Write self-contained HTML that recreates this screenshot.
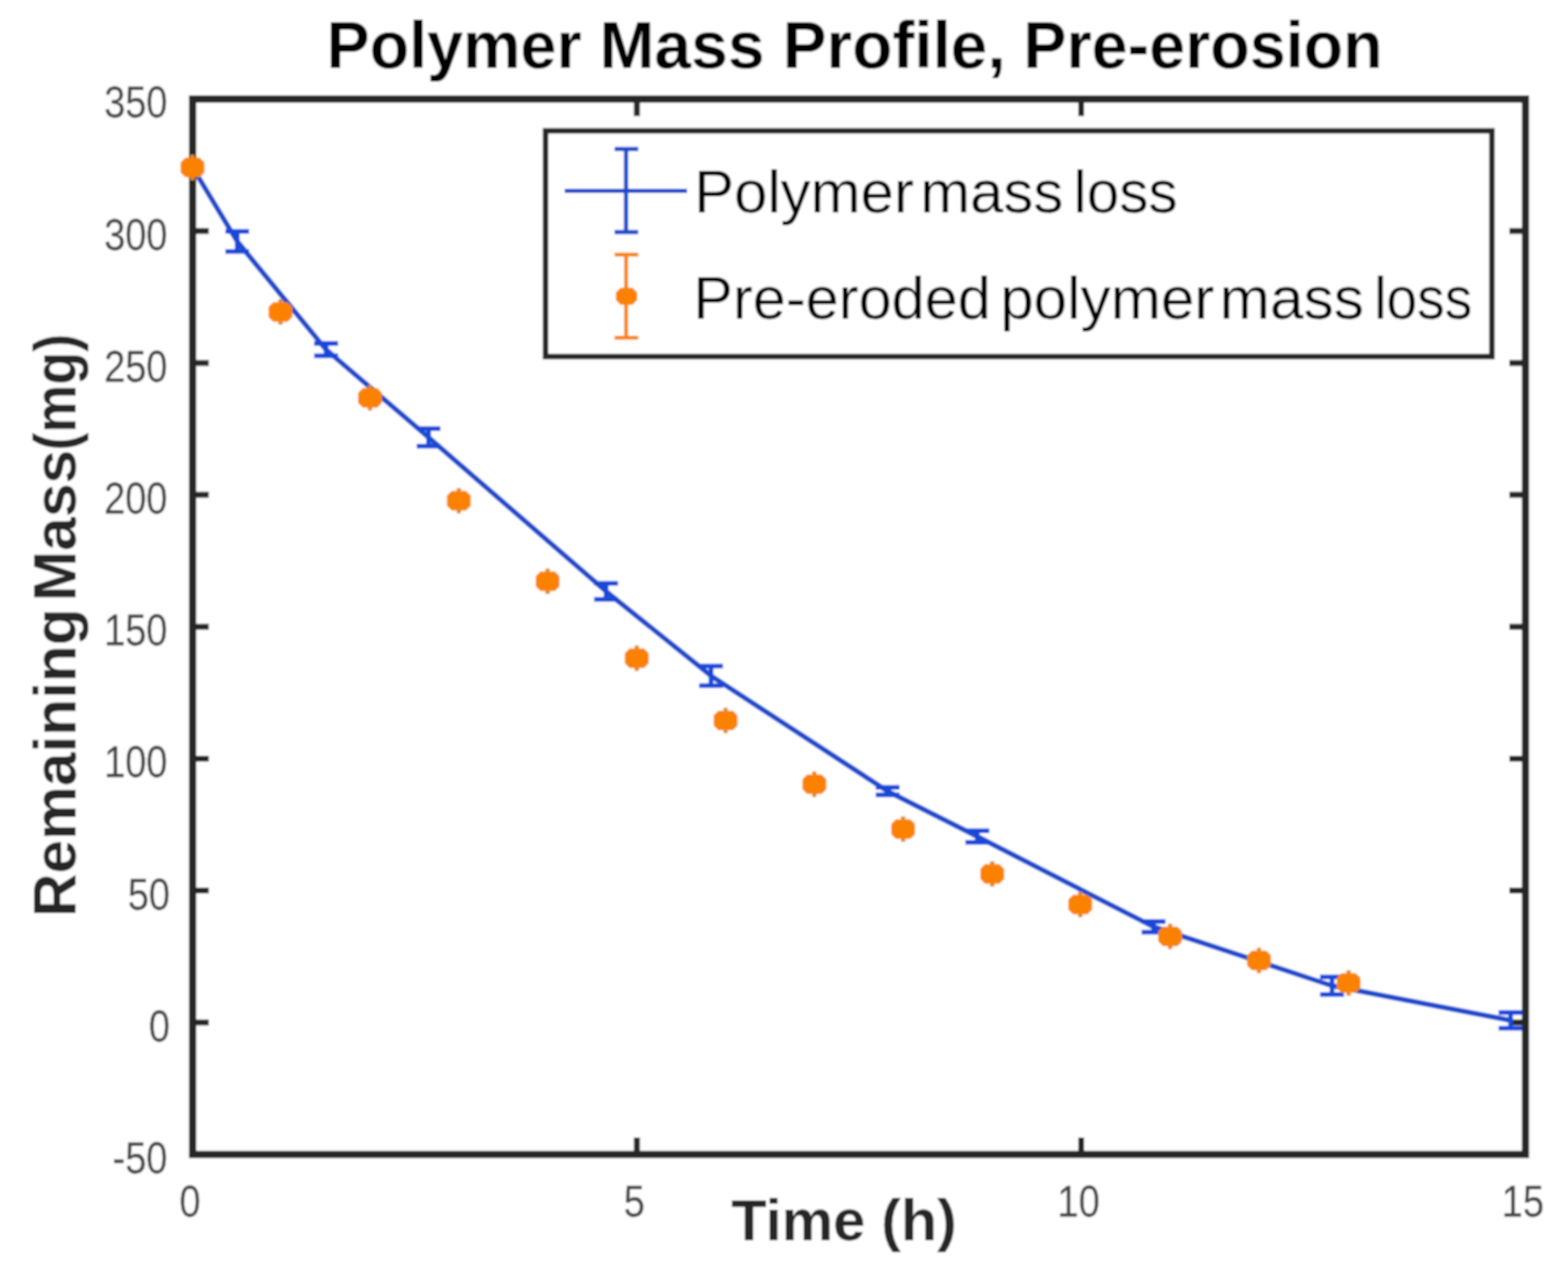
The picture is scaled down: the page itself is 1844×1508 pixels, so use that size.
<!DOCTYPE html>
<html><head><meta charset="utf-8"><title>Polymer Mass Profile, Pre-erosion</title>
<style>html,body{margin:0;padding:0;background:#fff;overflow:hidden}svg{display:block}</style>
</head><body>
<svg width="1844" height="1508" viewBox="0 0 1844 1508">
<defs><filter id="soft" x="0" y="0" width="1" height="1"><feGaussianBlur stdDeviation="1.2"/></filter></defs>
<g filter="url(#soft)">
<rect x="0" y="0" width="1844" height="1508" fill="#ffffff"/>
<rect x="226.5" y="116.5" width="1567.5" height="1241.5" fill="none" stroke="#262626" stroke-width="8.5"/>
<path d="M226.5,116.5H245.5 M1794.0,116.5H1775.0 M226.5,271.7H245.5 M1794.0,271.7H1775.0 M226.5,426.9H245.5 M1794.0,426.9H1775.0 M226.5,582.1H245.5 M1794.0,582.1H1775.0 M226.5,737.2H245.5 M1794.0,737.2H1775.0 M226.5,892.4H245.5 M1794.0,892.4H1775.0 M226.5,1047.6H245.5 M1794.0,1047.6H1775.0 M226.5,1202.8H245.5 M1794.0,1202.8H1775.0 M226.5,1358.0H245.5 M1794.0,1358.0H1775.0 M226.5,1358.0V1338.0 M226.5,116.5V136.5 M749.0,1358.0V1338.0 M749.0,116.5V136.5 M1271.5,1358.0V1338.0 M1271.5,116.5V136.5 M1794.0,1358.0V1338.0 M1794.0,116.5V136.5" stroke="#262626" stroke-width="7" fill="none"/>
<text x="197" y="138.5" text-anchor="end" font-family="Liberation Sans, Arial, sans-serif" font-size="52" fill="#444444" stroke="#444444" stroke-width="0.3" transform="translate(197,0) scale(0.86,1) translate(-197,0)">350</text>
<text x="197" y="293.7" text-anchor="end" font-family="Liberation Sans, Arial, sans-serif" font-size="52" fill="#444444" stroke="#444444" stroke-width="0.3" transform="translate(197,0) scale(0.86,1) translate(-197,0)">300</text>
<text x="197" y="448.9" text-anchor="end" font-family="Liberation Sans, Arial, sans-serif" font-size="52" fill="#444444" stroke="#444444" stroke-width="0.3" transform="translate(197,0) scale(0.86,1) translate(-197,0)">250</text>
<text x="197" y="604.1" text-anchor="end" font-family="Liberation Sans, Arial, sans-serif" font-size="52" fill="#444444" stroke="#444444" stroke-width="0.3" transform="translate(197,0) scale(0.86,1) translate(-197,0)">200</text>
<text x="197" y="759.2" text-anchor="end" font-family="Liberation Sans, Arial, sans-serif" font-size="52" fill="#444444" stroke="#444444" stroke-width="0.3" transform="translate(197,0) scale(0.86,1) translate(-197,0)">150</text>
<text x="197" y="914.4" text-anchor="end" font-family="Liberation Sans, Arial, sans-serif" font-size="52" fill="#444444" stroke="#444444" stroke-width="0.3" transform="translate(197,0) scale(0.86,1) translate(-197,0)">100</text>
<text x="200" y="1069.6" text-anchor="end" font-family="Liberation Sans, Arial, sans-serif" font-size="52" fill="#444444" stroke="#444444" stroke-width="0.3" transform="translate(200,0) scale(0.86,1) translate(-200,0)">50</text>
<text x="200" y="1224.8" text-anchor="end" font-family="Liberation Sans, Arial, sans-serif" font-size="52" fill="#444444" stroke="#444444" stroke-width="0.3" transform="translate(200,0) scale(0.86,1) translate(-200,0)">0</text>
<text x="197" y="1380.0" text-anchor="end" font-family="Liberation Sans, Arial, sans-serif" font-size="52" fill="#444444" stroke="#444444" stroke-width="0.3" transform="translate(197,0) scale(0.86,1) translate(-197,0)">-50</text>
<text x="223.5" y="1431" text-anchor="middle" font-family="Liberation Sans, Arial, sans-serif" font-size="52" fill="#444444" stroke="#444444" stroke-width="0.3" transform="translate(223.5,0) scale(0.86,1) translate(-223.5,0)">0</text>
<text x="746.0" y="1431" text-anchor="middle" font-family="Liberation Sans, Arial, sans-serif" font-size="52" fill="#444444" stroke="#444444" stroke-width="0.3" transform="translate(746.0,0) scale(0.86,1) translate(-746.0,0)">5</text>
<text x="1268.5" y="1431" text-anchor="middle" font-family="Liberation Sans, Arial, sans-serif" font-size="52" fill="#444444" stroke="#444444" stroke-width="0.3" transform="translate(1268.5,0) scale(0.86,1) translate(-1268.5,0)">10</text>
<text x="1791.0" y="1431" text-anchor="middle" font-family="Liberation Sans, Arial, sans-serif" font-size="52" fill="#444444" stroke="#444444" stroke-width="0.3" transform="translate(1791.0,0) scale(0.86,1) translate(-1791.0,0)">15</text>
<polyline points="226.5,197.0 279,284 383.5,411.3 504,514.5 712.7,695.6 836.2,794.9 1043.9,930.7 1149.4,984 1356.6,1090.2 1566.5,1159.5 1776.5,1200.2" fill="none" stroke="#1f4ccc" stroke-width="6" stroke-linejoin="round"/>
<path d="M279,272.3V295.7M265,272.3H293M265,295.7H293M383.5,404.0V418.6M369.5,404.0H397.5M369.5,418.6H397.5M504,504.3V524.7M490,504.3H518M490,524.7H518M712.7,686.15V705.0500000000001M698.7,686.15H726.7M698.7,705.0500000000001H726.7M836.2,783.4V806.4M822.2,783.4H850.2M822.2,806.4H850.2M1043.9,926.3000000000001V935.1M1029.9,926.3000000000001H1057.9M1029.9,935.1H1057.9M1149.4,977.2V990.8M1135.4,977.2H1163.4M1135.4,990.8H1163.4M1356.6,1083.9V1096.5M1342.6,1083.9H1370.6M1342.6,1096.5H1370.6M1566.5,1149.3V1169.7M1552.5,1149.3H1580.5M1552.5,1169.7H1580.5M1776.5,1190.9V1209.5M1762.5,1190.9H1790.5M1762.5,1209.5H1790.5" fill="none" stroke="#1848da" stroke-width="5.5"/>
<path d="M226.4,182.1V212.1M329.8,352V382M435.1,453.1V483.1M539.6,574.1V604.1M644,668.8V698.8M748.8,759.2V789.2M853.3,832.4V862.4M957.7,907.5V937.5M1062.1,960.2V990.2M1166.9,1012.9000000000001V1042.9M1270.4,1049V1079M1376.1,1086.5V1116.5M1480.6,1114.8V1144.8M1586,1141.2V1171.2" stroke="#e08a20" stroke-width="5" fill="none"/>
<path d="M217.9,185.6H234.9L240.4,191.1V203.1L234.9,208.6H217.9L212.4,203.1V191.1ZM321.3,355.5H338.3L343.8,361.0V373.0L338.3,378.5H321.3L315.8,373.0V361.0ZM426.6,456.6H443.6L449.1,462.1V474.1L443.6,479.6H426.6L421.1,474.1V462.1ZM531.1,577.6H548.1L553.6,583.1V595.1L548.1,600.6H531.1L525.6,595.1V583.1ZM635.5,672.3H652.5L658.0,677.8V689.8L652.5,695.3H635.5L630.0,689.8V677.8ZM740.3,762.7H757.3L762.8,768.2V780.2L757.3,785.7H740.3L734.8,780.2V768.2ZM844.8,835.9H861.8L867.3,841.4V853.4L861.8,858.9H844.8L839.3,853.4V841.4ZM949.2,911.0H966.2L971.7,916.5V928.5L966.2,934.0H949.2L943.7,928.5V916.5ZM1053.6,963.7H1070.6L1076.1,969.2V981.2L1070.6,986.7H1053.6L1048.1,981.2V969.2ZM1158.4,1016.4H1175.4L1180.9,1021.9V1033.9L1175.4,1039.4H1158.4L1152.9,1033.9V1021.9ZM1261.9,1052.5H1278.9L1284.4,1058.0V1070.0L1278.9,1075.5H1261.9L1256.4,1070.0V1058.0ZM1367.6,1090.0H1384.6L1390.1,1095.5V1107.5L1384.6,1113.0H1367.6L1362.1,1107.5V1095.5ZM1472.1,1118.3H1489.1L1494.6,1123.8V1135.8L1489.1,1141.3H1472.1L1466.6,1135.8V1123.8ZM1577.5,1144.7H1594.5L1600.0,1150.2V1162.2L1594.5,1167.7H1577.5L1572.0,1162.2V1150.2Z" fill="#fb8204"/>
<rect x="641.6" y="153.9" width="1112.9" height="265.5" fill="#fff" stroke="#262626" stroke-width="6.5"/>
<path d="M664,224.6H808M736.2,175.2V272.9M722.8,175.2H750.5M722.8,272.9H750.5" stroke="#1f4ccc" stroke-width="5" fill="none"/>
<path d="M736.2,299.6V397.3M722.8,299.6H750.5M722.8,397.3H750.5" stroke="#fb8204" stroke-width="4.5" fill="none"/>
<path d="M729.8,338.6H743.8L749.3,344.1V353.1L743.8,358.6H729.8L724.3,353.1V344.1Z" fill="#fb8204"/>
<text x="384.07" y="80" font-family="Liberation Sans, Arial, sans-serif" font-weight="bold" font-size="77" fill="#000" textLength="299.9" lengthAdjust="spacingAndGlyphs">Polymer</text>
<text x="704.96" y="80" font-family="Liberation Sans, Arial, sans-serif" font-weight="bold" font-size="77" fill="#000" textLength="194.09" lengthAdjust="spacingAndGlyphs">Mass</text>
<text x="920.48" y="80" font-family="Liberation Sans, Arial, sans-serif" font-weight="bold" font-size="77" fill="#000" textLength="262.16" lengthAdjust="spacingAndGlyphs">Profile,</text>
<text x="1203.57" y="80" font-family="Liberation Sans, Arial, sans-serif" font-weight="bold" font-size="77" fill="#000" textLength="422.28" lengthAdjust="spacingAndGlyphs">Pre-erosion</text>
<text x="860.0" y="1459" font-family="Liberation Sans, Arial, sans-serif" font-weight="bold" font-size="68" fill="#262626" textLength="157.59" lengthAdjust="spacingAndGlyphs">Time</text>
<text x="1036.32" y="1459" font-family="Liberation Sans, Arial, sans-serif" font-weight="bold" font-size="68" fill="#262626" textLength="89.0" lengthAdjust="spacingAndGlyphs">(h)</text>
<text transform="translate(88.6,1078.81) rotate(-90)" x="0" y="0" font-family="Liberation Sans, Arial, sans-serif" font-weight="bold" font-size="71" fill="#262626" textLength="363.26" lengthAdjust="spacingAndGlyphs">Remaining</text>
<text transform="translate(88.6,707.21) rotate(-90)" x="0" y="0" font-family="Liberation Sans, Arial, sans-serif" font-weight="bold" font-size="71" fill="#262626" textLength="178.03" lengthAdjust="spacingAndGlyphs">Mass</text>
<text transform="translate(88.6,530.07) rotate(-90)" x="0" y="0" font-family="Liberation Sans, Arial, sans-serif" font-weight="bold" font-size="71" fill="#262626" textLength="137.36" lengthAdjust="spacingAndGlyphs">(mg)</text>
<text x="816.2" y="249.7" font-family="Liberation Sans, Arial, sans-serif" font-weight="normal" font-size="70.5" fill="#000" textLength="258.46" lengthAdjust="spacingAndGlyphs">Polymer</text>
<text x="1082.21" y="249.7" font-family="Liberation Sans, Arial, sans-serif" font-weight="normal" font-size="70.5" fill="#000" textLength="168.23" lengthAdjust="spacingAndGlyphs">mass</text>
<text x="1262.62" y="249.7" font-family="Liberation Sans, Arial, sans-serif" font-weight="normal" font-size="70.5" fill="#000" textLength="122.29" lengthAdjust="spacingAndGlyphs">loss</text>
<text x="815.25" y="375.2" font-family="Liberation Sans, Arial, sans-serif" font-weight="normal" font-size="70.5" fill="#000" textLength="350.04" lengthAdjust="spacingAndGlyphs">Pre-eroded</text>
<text x="1176.18" y="375.2" font-family="Liberation Sans, Arial, sans-serif" font-weight="normal" font-size="70.5" fill="#000" textLength="251.98" lengthAdjust="spacingAndGlyphs">polymer</text>
<text x="1434.36" y="375.2" font-family="Liberation Sans, Arial, sans-serif" font-weight="normal" font-size="70.5" fill="#000" textLength="169.8" lengthAdjust="spacingAndGlyphs">mass</text>
<text x="1616.21" y="375.2" font-family="Liberation Sans, Arial, sans-serif" font-weight="normal" font-size="70.5" fill="#000" textLength="115.18" lengthAdjust="spacingAndGlyphs">loss</text>
</g>
</svg>
</body></html>
